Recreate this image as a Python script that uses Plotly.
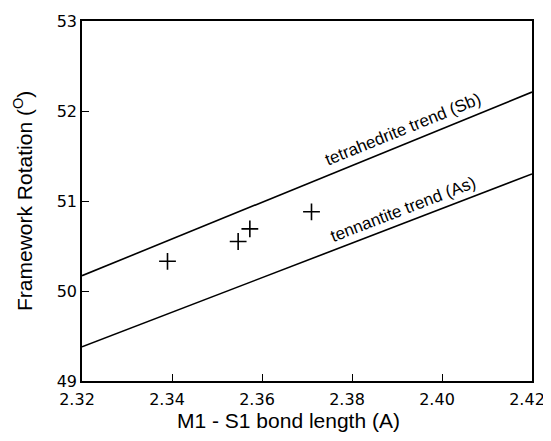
import plotly.graph_objects as go

# Data
bond_length = [2.339, 2.3547, 2.3573, 2.371]
rotation = [50.33, 50.55, 50.69, 50.88]

trend_x = [2.32, 2.42]
tetrahedrite_y = [50.17, 52.21]
tennantite_y = [49.38, 51.30]

x_ticks = [2.32, 2.34, 2.36, 2.38, 2.40, 2.42]
x_tick_labels = ["2.32", "2.34", "2.36", "2.38", "2.40", "2.42"]
y_ticks = [49, 50, 51, 52, 53]
y_tick_labels = ["49", "50", "51", "52", "53"]

FONT = "Liberation Sans, Arial, Helvetica, sans-serif"
TICKFONT = "DejaVu Sans, sans-serif"

fig = go.Figure()
fig.add_trace(go.Scatter(x=trend_x, y=tetrahedrite_y, mode="lines",
                         line=dict(color="black", width=1.6), showlegend=False))
fig.add_trace(go.Scatter(x=trend_x, y=tennantite_y, mode="lines",
                         line=dict(color="black", width=1.6), showlegend=False))
fig.add_trace(go.Scatter(x=bond_length, y=rotation, mode="markers",
                         marker=dict(symbol="cross-thin", size=12, color="black",
                                     line=dict(color="black", width=1.6)),
                         showlegend=False))

fig.add_annotation(x=2.3913, y=51.79, text="tetrahedrite trend (Sb)", showarrow=False,
                   textangle=-22, font=dict(family=FONT, size=17, color="black"),
                   xanchor="center", yanchor="middle")
fig.add_annotation(x=2.3913, y=50.91, text="tennantite trend (As)", showarrow=False,
                   textangle=-21, font=dict(family=FONT, size=17, color="black"),
                   xanchor="center", yanchor="middle")

# Axis titles
fig.add_annotation(x=0, xref="paper", y=0.5, yref="paper", xshift=-59,
                   text="Framework Rotation (<sup>O</sup>)", showarrow=False,
                   textangle=-90, font=dict(family=FONT, size=21, color="black"),
                   xanchor="center", yanchor="middle")
fig.add_annotation(x=0.459, xref="paper", y=0, yref="paper", yshift=-39,
                   text="M1 - S1 bond length (A)", showarrow=False,
                   font=dict(family=FONT, size=21, color="black"),
                   xanchor="center", yanchor="middle")

fig.update_xaxes(range=[2.32 - 1e-9, 2.42 + 1e-9], tickvals=x_ticks, ticktext=x_tick_labels,
                 ticks="inside", ticklen=7, tickwidth=1.2, tickcolor="black",
                 showline=True, linecolor="black", linewidth=1.6, mirror=True,
                 showgrid=False, zeroline=False, ticklabelstandoff=3,
                 ticklabelshift=-5, ticklabeloverflow="allow",
                 tickfont=dict(family=TICKFONT, size=16, color="black"))
fig.update_yaxes(range=[49 - 1e-9, 53 + 1e-9], tickvals=y_ticks, ticktext=y_tick_labels,
                 ticks="inside", ticklen=7, tickwidth=1.2, tickcolor="black",
                 showline=True, linecolor="black", linewidth=1.6, mirror=True,
                 showgrid=False, zeroline=False, ticklabeloverflow="allow",
                 tickfont=dict(family=TICKFONT, size=16, color="black"))

# The page body adds an 8px margin; size the figure so the plot lands where
# the reference has it within the 551x441 window.
fig.update_layout(width=543, height=425,
                  margin=dict(l=74, r=18.5, t=13, b=52, autoexpand=False),
                  paper_bgcolor="white", plot_bgcolor="white",
                  font=dict(family=FONT, color="black"))

fig.write_html("out.html")
